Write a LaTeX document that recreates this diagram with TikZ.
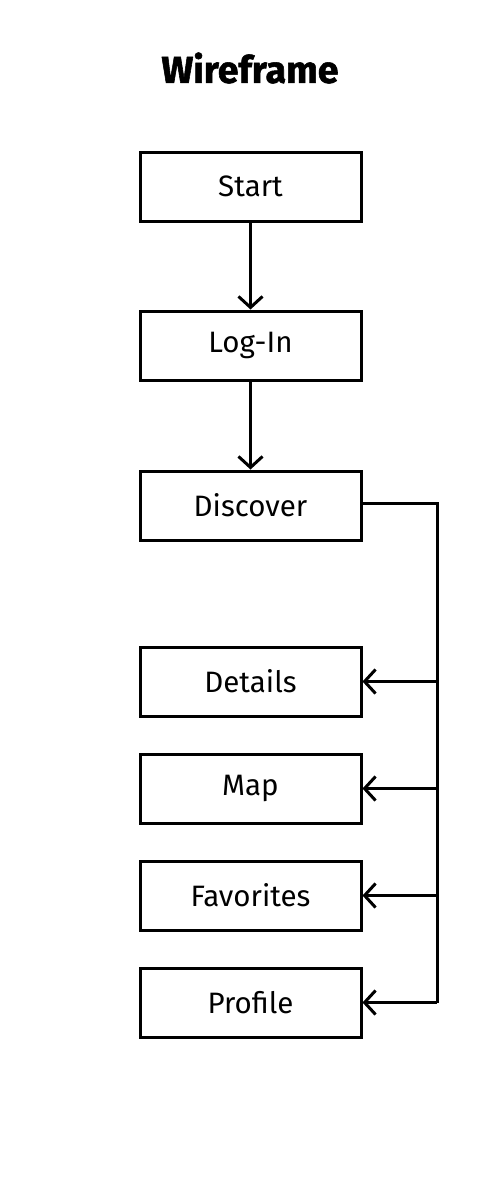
\documentclass[tikz,border=0pt]{standalone}
\usepackage{fontspec}
\setmainfont{Fira Sans}
\newfontfamily\titlefont{Fira Sans}[BoldFeatures={FakeBold=1.5}]
\usetikzlibrary{arrows.meta}
\tikzset{
  box/.style={draw=black, line width=3pt, minimum width=221pt, minimum height=69pt, inner sep=0pt, font=\fontsize{29.5}{33}\selectfont},
  link/.style={draw=black, line width=3pt, -{Straight Barb[length=11pt,width=24pt,line width=3pt]}},
}
\begin{document}
\begin{tikzpicture}[x=1pt,y=-1pt]
\useasboundingbox (0,0) rectangle (500,1196);
\node[font=\titlefont\fontsize{37.5}{40}\selectfont\bfseries] (title) at (250,68) {Wireframe};
\node[box] (start) at (250.5,186.5) {Start};
\node[box] (login) at (250.5,345.5) {Log-In};
\node[box] (discover) at (250.5,505.5) {Discover};
\node[box] (details) at (250.5,681.5) {Details};
\node[box] (map) at (250.5,788.5) {Map};
\node[box] (favorites) at (250.5,895.5) {Favorites};
\node[box] (profile) at (250.5,1002.5) {Profile};
\coordinate (bus) at (437,503);
\draw[link] (start) -- (login);
\draw[link] (login) -- (discover);
\draw[line width=3pt] (discover.east |- bus) -- (bus) -- (bus |- profile);
\draw[link] (bus |- details) -- (details.east);
\draw[link] (bus |- map) -- (map.east);
\draw[link] (bus |- favorites) -- (favorites.east);
\draw[link] (bus |- profile) -- (profile.east);
\end{tikzpicture}
\end{document}
